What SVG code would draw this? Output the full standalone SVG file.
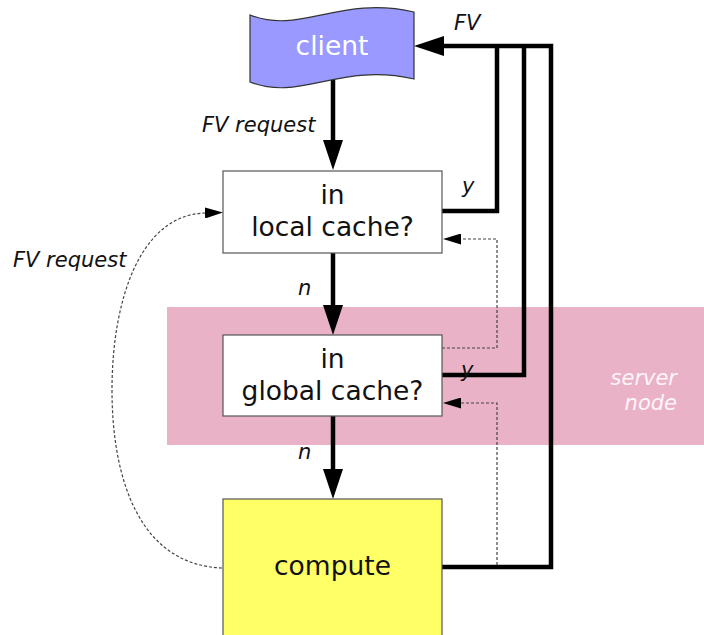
<svg xmlns="http://www.w3.org/2000/svg" width="704" height="635" viewBox="0 0 704 635">
  <style>
    .box { fill: #ffffff; stroke: #555555; stroke-width: 1.2; }
    .label { font-family: "DejaVu Sans", "Liberation Sans", sans-serif; font-size: 26.5px; fill: #111111; text-anchor: middle; }
    .note { font-family: "DejaVu Sans", "Liberation Sans", sans-serif; font-size: 21px; font-style: italic; fill: #111111; }
    .light { fill: #fff4f8; }
    .thick { fill: none; stroke: #000000; stroke-width: 4.5; }
    .dash { fill: none; stroke: #444444; stroke-width: 1.2; stroke-dasharray: 3 2; }
  </style>
  <defs>
    <marker id="bigHead" markerUnits="userSpaceOnUse" viewBox="0 -10 30 20" markerWidth="30" markerHeight="20" refX="0" refY="0" orient="auto">
      <path d="M0,-10 L30,0 L0,10 Z" fill="#000000"/>
    </marker>
    <marker id="smallHead" markerUnits="userSpaceOnUse" viewBox="0 -5.5 18 11" markerWidth="18" markerHeight="11" refX="0" refY="0" orient="auto">
      <path d="M0,-5.5 L18,0 L0,5.5 Z" fill="#000000"/>
    </marker>
  </defs>

  <!-- server node band -->
  <g id="server-node">
    <rect x="167" y="307" width="537" height="138" fill="#e9b2c7"/>
    <text class="note light" x="677" y="385" text-anchor="end">server</text>
    <text class="note light" x="677" y="410" text-anchor="end">node</text>
  </g>

  <!-- connectors -->
  <g id="connectors">
    <path class="thick" d="M333,80 V140" marker-end="url(#bigHead)"/>
    <path class="thick" d="M333,253 V305" marker-end="url(#bigHead)"/>
    <path class="thick" d="M333,416 V469" marker-end="url(#bigHead)"/>
    <path class="thick" d="M442,211 H497 V46"/>
    <path class="thick" d="M442,375 H524 V46"/>
    <path class="thick" d="M442,567 H551 V46 H444" marker-end="url(#bigHead)"/>
    <path class="dash" d="M442,348 H497 V239 H461" marker-end="url(#smallHead)"/>
    <path class="dash" d="M497,565 V403 H461" marker-end="url(#smallHead)"/>
    <path class="dash" d="M222,568 C140,565 112,480 112,390 C112,300 140,215 205,213" marker-end="url(#smallHead)"/>
    <text class="note" x="202" y="132">FV request</text>
    <text class="note" x="454" y="30">FV</text>
    <text class="note" x="13" y="267">FV request</text>
    <text class="note" x="462" y="193">y</text>
    <text class="note" x="461" y="377">y</text>
    <text class="note" x="298" y="295">n</text>
    <text class="note" x="298" y="459">n</text>
  </g>

  <!-- client -->
  <g id="client">
    <path d="M250,15 C300,35 340,-5 414,12 L414,79 C340,62 300,102 250,82 Z" fill="#9999ff" stroke="#333333" stroke-width="1.2"/>
    <text class="label" x="332" y="55" style="fill:#ffffff">client</text>
  </g>

  <!-- local cache check -->
  <g id="local-cache">
    <rect class="box" x="223" y="171" width="219" height="82"/>
    <text class="label" x="332.5" y="204">in</text>
    <text class="label" x="332.5" y="236">local cache?</text>
  </g>

  <!-- global cache check -->
  <g id="global-cache">
    <rect class="box" x="223" y="335" width="219" height="81"/>
    <text class="label" x="332.5" y="368">in</text>
    <text class="label" x="332.5" y="400">global cache?</text>
  </g>

  <!-- compute -->
  <g id="compute">
    <rect class="box" x="223" y="499" width="219" height="140" style="fill:#ffff66"/>
    <text class="label" x="332.5" y="575">compute</text>
  </g>
</svg>
